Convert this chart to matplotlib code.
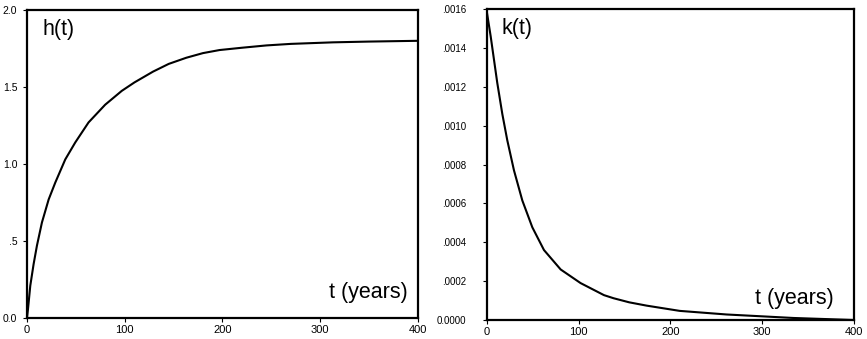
import matplotlib
matplotlib.use("Agg")
import matplotlib.pyplot as plt

# h(t)
h_t = [0, 1.0, 3.4, 6.8, 10.2, 15.3, 22.2, 29, 39.2, 49.4, 63, 80, 97, 110,
       129, 145, 163, 180, 197, 220, 245, 270, 313, 350, 400]
h_v = [0.0, 0.055, 0.21, 0.35, 0.47, 0.62, 0.77, 0.88, 1.03, 1.14, 1.27, 1.385, 1.475, 1.53,
       1.60, 1.65, 1.69, 1.72, 1.74, 1.755, 1.77, 1.78, 1.79, 1.795, 1.80]

# k(t)
k_t = [0, 4, 7.6, 11.2, 16.7, 22.1, 29.4, 38.5, 49.4, 62.1, 80.3, 102, 127.5, 138,
       155, 174, 210, 261, 334, 400]
k_v = [0.00158, 0.00146, 0.00134, 0.00122, 0.00106, 0.000925, 0.00077, 0.000615,
       0.000477, 0.00036, 0.00026, 0.00019, 0.000128, 0.000112,
       0.000091, 0.000074, 0.000047, 0.0000285, 0.0000105, 0.0]

x_ticks = [0, 100, 200, 300, 400]
h_yticks = [0.0, 0.5, 1.0, 1.5, 2.0]
h_ylabels = ["0.0", ".5", "1.0", "1.5", "2.0"]
k_yticks = [0.0, 0.0002, 0.0004, 0.0006, 0.0008, 0.0010, 0.0012, 0.0014, 0.0016]
k_ylabels = ["0.0000", ".0002", ".0004", ".0006", ".0008", ".0010", ".0012", ".0014", ".0016"]

plt.rcParams['font.family'] = ['Liberation Sans', 'DejaVu Sans']
narrow = ['Liberation Sans Narrow', 'Liberation Sans', 'DejaVu Sans']

fig = plt.figure(figsize=(8.67, 3.39), dpi=100)
ax1 = fig.add_axes([0.0311, 0.0619, 0.451, 0.9086])
ax2 = fig.add_axes([0.5617, 0.056, 0.4233, 0.9174])

for ax in (ax1, ax2):
    for s in ax.spines.values():
        s.set_linewidth(1.6)
    ax.tick_params(direction='out', length=3, width=0.8, pad=2)
    ax.tick_params(axis='x', labelsize=8)
    ax.set_xlim(0, 400)
    ax.set_xticks(x_ticks)
    ax.set_xticklabels([str(v) for v in x_ticks])

ax1.plot(h_t, h_v, color='black', lw=1.5)
ax1.set_ylim(0, 2.0)
ax1.set_yticks(h_yticks)
ax1.set_yticklabels(h_ylabels, fontsize=7.5)
ax1.tick_params(axis='y', pad=4)
ax1.text(0.04, 0.97, "h(t)", transform=ax1.transAxes, fontsize=15.5, va='top', ha='left')
ax1.text(0.975, 0.05, "t (years)", transform=ax1.transAxes, fontsize=15.5, va='bottom', ha='right')

ax2.plot(k_t, k_v, color='black', lw=1.5)
ax2.set_ylim(0, 0.0016)
ax2.set_yticks(k_yticks)
ax2.set_yticklabels(k_ylabels, fontsize=7, family=narrow)
ax2.tick_params(axis='y', pad=12)
ax2.text(0.04, 0.97, "k(t)", transform=ax2.transAxes, fontsize=15.5, va='top', ha='left')
ax2.text(0.945, 0.035, "t (years)", transform=ax2.transAxes, fontsize=15.5, va='bottom', ha='right')

fig.savefig("out.png", dpi=100)
